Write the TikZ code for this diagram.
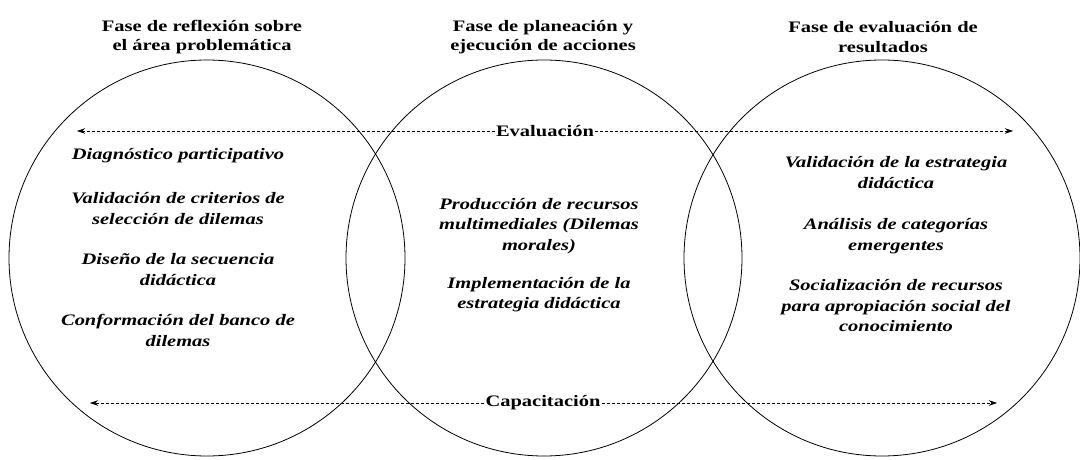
\documentclass[tikz,border=0pt]{standalone}
\usepackage{fontspec}
\setmainfont{Liberation Serif}[FakeStretch=1.28]
\usetikzlibrary{arrows.meta}

\begin{document}
\begin{tikzpicture}[x=1pt,y=-1pt,
  fase/.style={circle,draw,line width=0.8pt,minimum size=396pt,inner sep=0pt},
  titulo/.style={align=center,font=\fontsize{16}{19.5}\selectfont\bfseries},
  accion/.style={align=center,font=\fontsize{16}{20.5}\selectfont\bfseries\itshape},
  eje/.style={densely dashed,line width=0.6pt,-{Stealth[length=8pt,width=5.5pt]}},
  rotulo/.style={fill=white,inner sep=1pt,font=\fontsize{16}{19}\selectfont\bfseries}]
 \useasboundingbox (0,0) rectangle (1080,460);
 % circulos de las fases
 \node[fase] (reflexion) at (207,258) {};
 \node[fase] (planeacion) at (544,258) {};
 \node[fase] (resultados) at (882,258) {};
 % titulos
 \node[titulo] (t1) at (202,37) {Fase de reflexión sobre\\el área problemática};
 \node[titulo] (t2) at (543,37) {Fase de planeación y\\ejecución de acciones};
 \node[titulo] (t3) at (883,37) {Fase de evaluación de\\resultados};
 % ejes transversales
 \coordinate (evalL) at (77,131);
 \coordinate (evalR) at (1013,131);
 \coordinate (capL) at (90,403);
 \coordinate (capR) at (997,403);
 \node[rotulo] (eval) at (545,131) {Evaluación};
 \node[rotulo] (cap) at (543,403) {Capacitación};
 \draw[eje] (eval) -- (evalL);
 \draw[eje] (eval) -- (evalR);
 \draw[eje] (cap) -- (capL);
 \draw[eje] (cap) -- (capR);
 % acciones de la fase 1
 \node[accion] (diag) at (178,156) {Diagnóstico participativo};
 \node[accion] (crit) at (178,208.5) {Validación de criterios de\\selección de dilemas};
 \node[accion] (secu) at (178,269.5) {Diseño de la secuencia\\didáctica};
 \node[accion] (banco) at (178,330.5) {Conformación del banco de\\dilemas};
 % acciones de la fase 2
 \node[accion] (prod) at (539,226) {Producción de recursos\\multimediales (Dilemas\\morales)};
 \node[accion] (impl) at (539,294.5) {Implementación de la\\estrategia didáctica};
 % acciones de la fase 3
 \node[accion] (valid) at (896,172.5) {Validación de la estrategia\\didáctica};
 \node[accion] (categ) at (896,236) {Análisis de categorías\\emergentes};
 \node[accion] (social) at (896,306) {Socialización de recursos\\para apropiación social del\\conocimiento};
\end{tikzpicture}
\end{document}
